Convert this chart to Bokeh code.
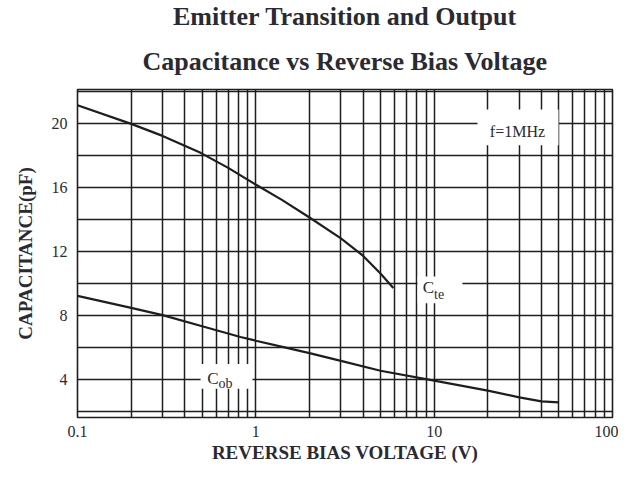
from bokeh.plotting import figure
from bokeh.models import FixedTicker, CustomJSTickFormatter, BoxAnnotation, Label, Title
from bokeh.embed import file_html
from bokeh.resources import INLINE

# ---- data ----
cte_v = [0.1, 0.2, 0.3, 0.49, 0.7, 1.02, 1.4, 2.0, 3.0, 4.0, 5.0, 5.9]
cte_c = [21.12, 19.95, 19.2, 18.14, 17.2, 16.1, 15.2, 14.1, 12.8, 11.7, 10.6, 9.7]

cob_v = [0.1, 0.2, 0.3, 0.5, 0.82, 1.0, 1.43, 2.0, 3.0, 5.0, 10.0, 20.0, 30.0, 40.0, 50.0]
cob_c = [9.2, 8.45, 8.0, 7.3, 6.63, 6.4, 6.0, 5.62, 5.14, 4.52, 3.9, 3.28, 2.86, 2.61, 2.55]

x_ticks = [0.1, 1, 10, 100]
y_ticks = [4, 8, 12, 16, 20]
y_grid = [2, 4, 6, 8, 10, 12, 14, 16, 18, 20, 22]
x_grid = [m * 10.0 ** e for e in (-1, 0, 1) for m in range(1, 10)] + [100]

title_lines = ["Emitter Transition and Output", "Capacitance vs Reverse Bias Voltage"]
x_label = "REVERSE BIAS VOLTAGE (V)"
y_label = "CAPACITANCE(pF)"

SERIF = "Liberation Serif"
INK = "#1e1e1e"
TXT = "#2a2a33"

p = figure(width=618, height=471, x_axis_type="log",
           x_range=(0.1, 100), y_range=(1.6, 22.1),
           output_backend="svg", toolbar_location=None,
           min_border_left=77, min_border_right=6,
           min_border_top=87, min_border_bottom=54)

# two centred title lines (the one added last sits next to the frame)
p.title.text = title_lines[0]
p.title.align = "center"
p.title.text_font = SERIF
p.title.text_font_size = "26px"
p.title.text_font_style = "bold"
p.title.text_color = TXT
p.title.standoff = -1
p.add_layout(Title(text=title_lines[1], align="center", text_font=SERIF,
                   text_font_size="26px", text_font_style="bold",
                   text_color=TXT, standoff=28), "above")

p.background_fill_color = "white"
p.outline_line_color = INK
p.outline_line_width = 1.6
p.outline_line_alpha = 1.0

# grids
p.xgrid.ticker = FixedTicker(ticks=x_grid)
p.ygrid.ticker = FixedTicker(ticks=y_grid)
for g in (p.xgrid, p.ygrid):
    g.grid_line_color = INK
    g.grid_line_width = 1.5
    g.grid_line_alpha = 1.0

# axes
p.xaxis.ticker = FixedTicker(ticks=x_ticks)
p.xaxis.formatter = CustomJSTickFormatter(code="return String(Math.round(tick*10)/10);")
p.yaxis.ticker = FixedTicker(ticks=y_ticks)
for ax in (p.xaxis, p.yaxis):
    ax.axis_line_color = None
    ax.major_tick_line_color = None
    ax.minor_tick_line_color = None
    ax.major_tick_out = 0
    ax.major_tick_in = 0
    ax.minor_tick_out = 0
    ax.minor_tick_in = 0
    ax.major_label_text_font = SERIF
    ax.major_label_text_font_size = "16px"
    ax.major_label_text_color = TXT
    ax.axis_label_text_font = SERIF
    ax.axis_label_text_font_style = "bold"
    ax.axis_label_text_color = TXT

p.xaxis.axis_label = x_label
p.xaxis.axis_label_text_font_size = "19px"
p.xaxis.major_label_standoff = 8
p.xaxis.axis_label_standoff = 2

p.yaxis.axis_label = y_label
p.yaxis.axis_label_text_font_size = "19px"
p.yaxis.major_label_standoff = 10
p.yaxis.axis_label_standoff = 13

# curves
p.line(cte_v, cte_c, line_color=INK, line_width=2.2)
p.line(cob_v, cob_c, line_color=INK, line_width=2.2)

# white label boxes breaking the grid
def box(l, r, b, t):
    p.add_layout(BoxAnnotation(left=l, right=r, bottom=b, top=t,
                               fill_color="white", fill_alpha=1.0,
                               line_color=None, level="annotation"))

box(17.5, 49.8, 18.62, 20.85)
box(8.07, 14.4, 8.74, 10.42)
box(0.49, 0.958, 3.4, 4.95)

def lab(x, y, t, size, align="center"):
    p.add_layout(Label(x=x, y=y, text=t, text_font=SERIF, text_font_size=size,
                       text_color=TXT, text_align=align, text_baseline="middle"))

lab(29.3, 19.45, "f=1MHz", "16px")
lab(9.98, 9.75, "C", "17px", "right")
lab(9.98, 9.3, "te", "14px", "left")
lab(0.618, 4.05, "C", "17px", "right")
lab(0.618, 3.72, "ob", "14px", "left")

open("out.html", "w").write(file_html(p, INLINE))
